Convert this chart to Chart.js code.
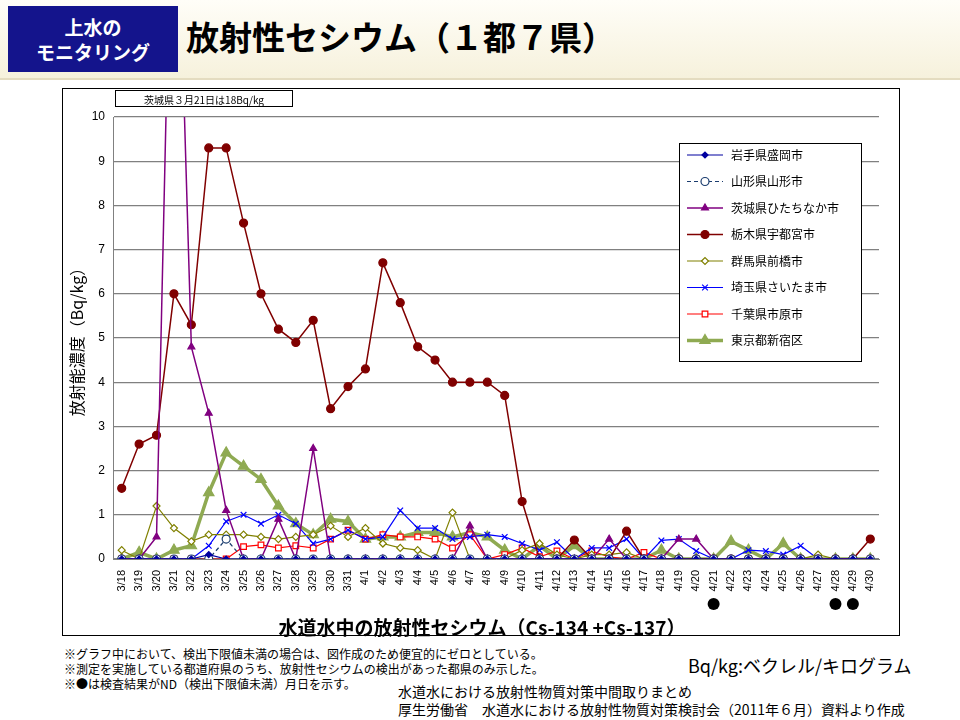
<!DOCTYPE html>
<html>
<head>
<meta charset="utf-8">
<script src="https://cdn.jsdelivr.net/npm/chart.js@4"></script>
<style>
  body { margin: 0; width: 960px; height: 720px; background: #fff; font-family: "Noto Sans CJK JP", sans-serif; position: relative; overflow: hidden; }
  .header { position: absolute; left: 0; top: 0; width: 960px; height: 78px; background: linear-gradient(#fffef8, #f6f1dc); border-bottom: 2px solid #e4dcc0; }
  .badge { position: absolute; left: 8px; top: 6px; width: 170px; height: 66px; background: #14148c; color: #fff; font-weight: bold; font-size: 19px; line-height: 25px; text-align: center; padding-top: 8px; box-sizing: border-box; }
  .title { position: absolute; left: 186px; top: 12px; font-size: 33px; font-weight: bold; color: #000; }
  .frame { position: absolute; left: 62px; top: 88px; width: 838px; height: 548px; border: 1px solid #000; box-sizing: border-box; }
  .note { position: absolute; font-size: 12px; color: #000; }
  .xtitle { position: absolute; left: 0; width: 838px; top: 524px; text-align: center; font-size: 19px; font-weight: bold; }
  .annot { position: absolute; left: 52px; top: 1px; width: 178px; height: 17px; border: 1px solid #000; font-size: 10px; line-height: 17px; text-align: center; box-sizing: border-box; }
</style>
</head>
<body>
<div class="header">
  <div class="badge">上水の<br>モニタリング</div>
  <div class="title">放射性セシウム（１都７県）</div>
</div>
<div class="frame">
  <canvas id="chart" width="836" height="546"></canvas>
  <div class="annot">茨城県３月21日は18Bq/kg</div>
  <div class="xtitle">水道水中の放射性セシウム（Cs-134 +Cs-137）</div>
</div>
<div class="note" style="left:64px;top:646px;line-height:15px;">※グラフ中において、検出下限値未満の場合は、図作成のため便宜的にゼロとしている。<br>※測定を実施している都道府県のうち、放射性セシウムの検出があった都県のみ示した。<br>※●は検査結果がND（検出下限値未満）月日を示す。</div>
<div class="note" style="left:688px;top:652px;font-size:18px;">Bq/kg:ベクレル/キログラム</div>
<div class="note" style="left:398px;top:682px;font-size:14px;line-height:18px;">水道水における放射性物質対策中間取りまとめ<br>厚生労働省　水道水における放射性物質対策検討会（2011年６月）資料より作成</div>
<script>
const dates = [
  "3/18","3/19","3/20","3/21","3/22","3/23","3/24","3/25","3/26","3/27","3/28","3/29","3/30","3/31",
  "4/1","4/2","4/3","4/4","4/5","4/6","4/7","4/8","4/9","4/10","4/11","4/12","4/13","4/14","4/15",
  "4/16","4/17","4/18","4/19","4/20","4/21","4/22","4/23","4/24","4/25","4/26","4/27","4/28","4/29","4/30"
];
const ndDates = ["4/21", "4/28", "4/29"];
const yTicks = [0, 1, 2, 3, 4, 5, 6, 7, 8, 9, 10];

const iwate = [0,0,0,0,0,0.1,0,0,0,0,0,0,0,0, 0,0,0,0,0,0,0,0,0,0,0,0,0,0,0, 0,0,0,0,0,0,0,0,0,0,0,0,0,0,0];
const yamagata = [0,0,0,0,0,0,0.45,0,0,0,0,0,0,0, 0,0,0,0,0,0,0,0,0,0,0,0,0,0,0, 0,0,0,0,0,0,0,0,0,0,0,0,0,0,0];
const ibaraki = [0,0,0.5,18,4.8,3.3,1.1,0,0,0.9,0,2.5,0,0, 0,0,0,0,0,0,0.75,0,0,0,0,0,0,0,0.45, 0,0,0,0.45,0.45,0,0,0,0,0,0,0,0,0,0];
const tochigi = [1.6,2.6,2.8,6.0,5.3,9.3,9.3,7.6,6.0,5.2,4.9,5.4,3.4,3.9, 4.3,6.7,5.8,4.8,4.5,4.0,4.0,4.0,3.7,1.3,0,0,0.43,0,0, 0.63,0,0,0,0,0,0,0,0,0,0,0,0,0,0.45];
const gunma = [0.2,0,1.2,0.7,0.4,0.55,0.55,0.55,0.5,0.45,0.5,0.55,0.75,0.5, 0.7,0.35,0.25,0.2,0,1.05,0,0,0,0.2,0.35,0.1,0,0.1,0.1, 0.15,0,0,0,0,0,0,0,0,0,0,0.1,0,0,0];
const saitama = [0,0,0,0,0,0.3,0.85,1.0,0.8,1.0,0.8,0.35,0.45,0.65, 0.45,0.5,1.1,0.7,0.7,0.45,0.5,0.55,0.5,0.35,0.2,0.38,0,0.25,0.25, 0.45,0,0.42,0.45,0.18,0,0,0.2,0.18,0.1,0.3,0,0,0,0];
const chiba = [0,0,0,0,0,0,0,0.28,0.32,0.25,0.3,0.25,0.45,0.65, 0.45,0.55,0.5,0.5,0.45,0.25,0.55,0,0.1,0.25,0.05,0.18,0,0.18,0.05, 0,0.15,0,0,0,0,0,0,0,0,0,0,0,0,0];
const tokyo = [0,0.15,0,0.2,0.3,1.5,2.4,2.1,1.8,1.2,0.8,0.55,0.9,0.85, 0.45,0.5,0.5,0.6,0.6,0.5,0.6,0.5,0.2,0,0.3,0,0.3,0,0, 0,0,0.2,0,0,0,0.4,0.2,0,0.35,0,0,0,0,0];

const series = [
  { label: "岩手県盛岡市", data: iwate, color: "#0000a0", style: "rectRot", fill: true, r: 3, w: 1.2 },
  { label: "山形県山形市", data: yamagata, color: "#1a3c6e", style: "circle", fill: false, r: 4, w: 1.2, dash: [4, 3] },
  { label: "茨城県ひたちなか市", data: ibaraki, color: "#800080", style: "triangle", fill: true, r: 4, w: 1.5 },
  { label: "栃木県宇都宮市", data: tochigi, color: "#800000", style: "circle", fill: true, r: 4, w: 1.5 },
  { label: "群馬県前橋市", data: gunma, color: "#808000", style: "rectRot", fill: false, r: 3.5, w: 1.2 },
  { label: "埼玉県さいたま市", data: saitama, color: "#0000ff", style: "crossRot", fill: false, r: 4, w: 1.2 },
  { label: "千葉県市原市", data: chiba, color: "#ff0000", style: "rect", fill: false, r: 4, w: 1.2 },
  { label: "東京都新宿区", data: tokyo, color: "#8faa52", style: "triangle", fill: true, r: 6, w: 3.5 },
];

const datasets = series.map((s) => ({
  label: s.label,
  data: s.data,
  borderColor: s.color,
  backgroundColor: s.fill ? s.color : "#ffffff",
  pointBorderColor: s.color,
  pointBackgroundColor: s.fill ? s.color : "#ffffff",
  pointStyle: s.style,
  pointRadius: s.r,
  borderWidth: s.w,
  pointBorderWidth: 1.2,
  borderDash: s.dash || [],
  tension: 0,
}));

// Legend box drawn inside the plot, plus ND markers under the axis
const extras = {
  id: "extras",
  afterDraw(chart) {
    const ctx = chart.ctx;
    const x0 = 616, y0 = 54, w = 182, h = 218;
    ctx.save();
    ctx.fillStyle = "#fff";
    ctx.fillRect(x0, y0, w, h);
    ctx.strokeStyle = "#000";
    ctx.lineWidth = 1;
    ctx.strokeRect(x0 + 0.5, y0 + 0.5, w, h);
    ctx.font = "12px 'Noto Sans CJK JP'";
    ctx.textBaseline = "middle";
    series.forEach((s, i) => {
      const y = y0 + 12 + i * 26.5;
      ctx.strokeStyle = s.color;
      ctx.lineWidth = s.w;
      ctx.setLineDash(s.dash || []);
      ctx.beginPath();
      ctx.moveTo(x0 + 8, y);
      ctx.lineTo(x0 + 44, y);
      ctx.stroke();
      ctx.setLineDash([]);
      ctx.lineWidth = 1.2;
      ctx.fillStyle = s.fill ? s.color : "#fff";
      Chart.helpers.drawPoint(ctx, { pointStyle: s.style, radius: s.r, rotation: 0, borderWidth: 1.2 }, x0 + 26, y);
      ctx.fillStyle = "#000";
      ctx.fillText(s.label, x0 + 52, y);
    });
    const xs = chart.scales.x;
    ctx.fillStyle = "#000";
    ndDates.forEach((d) => {
      const px = xs.getPixelForValue(dates.indexOf(d));
      ctx.beginPath();
      ctx.arc(px, 515, 6, 0, Math.PI * 2);
      ctx.fill();
    });
    ctx.restore();
  },
};

new Chart(document.getElementById("chart"), {
  type: "line",
  data: { labels: dates, datasets },
  options: {
    responsive: false,
    animation: false,
    layout: { padding: { top: 28, right: 20, left: 0, bottom: 0 } },
    plugins: { legend: { display: false }, tooltip: { enabled: false } },
    scales: {
      x: {
        offset: true,
        grid: { display: false, drawTicks: true },
        border: { color: "#808080" },
        ticks: { minRotation: 90, maxRotation: 90, autoSkip: false, color: "#000", font: { size: 11 } },
        afterFit: (scale) => { scale.height = 76; },
      },
      y: {
        min: 0,
        max: 10,
        afterBuildTicks: (scale) => { scale.ticks = yTicks.map((v) => ({ value: v })); },
        grid: { color: "#808080", lineWidth: 1.2, drawTicks: false },
        border: { color: "#808080" },
        ticks: { color: "#000", font: { size: 12 }, padding: 8 },
        title: { display: true, text: "放射能濃度（Bq/kg）", color: "#000", font: { size: 16, family: "Noto Sans CJK JP" } },
        afterFit: (scale) => { scale.width = 50; },
      },
    },
  },
  plugins: [extras],
});
</script>
</body>
</html>
